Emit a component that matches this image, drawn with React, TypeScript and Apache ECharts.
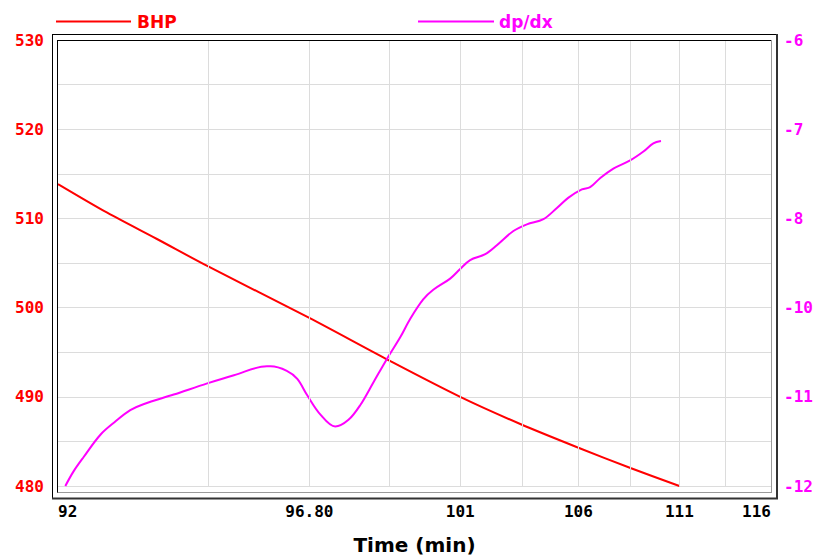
import React, { useEffect, useRef } from 'react';
import * as echarts from 'echarts';

// ---- x axis (non-linear time axis, labelled ticks) ----
const xTickValues = [92, 96.8, 101, 106, 111, 116];
const xTickLabels = ['92', '96.80', '101', '106', '111', '116'];
const xMinorGridTimes = [94.87, 99.03, 103.61, 108.59, 113.53];

// ---- BHP (left axis) ----
const bhpTime = [92.0, 92.94, 93.89, 94.85, 96.8, 99.03, 101.0, 103.54, 106.0, 108.61, 111.0];
const bhpValue = [513.85, 510.64, 507.69, 504.67, 498.84, 494.05, 489.99, 486.95, 484.29, 481.99, 480.0];

// ---- dp/dx (right axis) ----
const dpdxTime = [
  92.14, 92.3, 92.49, 92.81, 93.1, 93.38, 93.63, 94.21, 94.85, 95.36, 95.99, 96.06, 96.37, 96.57,
  96.76, 97.11, 97.52, 97.89, 98.22, 98.59, 98.96, 99.33, 99.61, 99.97, 100.25, 100.72, 101.0,
  101.42, 102.06, 102.55, 103.25, 103.82, 104.52, 105.09, 105.58, 106.17, 106.58, 107.07, 107.73,
  108.56, 109.22, 109.71, 110.09,
];
const dpdxValue = [
  -12.0, -11.8, -11.61, -11.31, -11.13, -10.98, -10.9, -10.77, -10.62, -10.51, -10.39, -10.39, -10.45,
  -10.56, -10.78, -11.04, -11.2, -11.11, -10.91, -10.6, -10.29, -10.0, -9.75, -9.49, -9.36, -9.21,
  -9.08, -8.96, -8.88, -8.76, -8.57, -8.48, -8.41, -8.26, -8.12, -8.01, -7.98, -7.86, -7.73, -7.62,
  -7.5, -7.39, -7.36,
];

// fraction of the axis length at which each labelled tick sits (non-linear scale)
const X_FRAC = [0, 0.3525, 0.5641, 0.7299, 0.8715, 1];

function toAxis(t: number): number {
  const n = xTickValues.length;
  let i = 0;
  while (i < n - 2 && t > xTickValues[i + 1]) i++;
  const a = xTickValues[i];
  const b = xTickValues[i + 1];
  const f = X_FRAC[i] + ((t - a) / (b - a)) * (X_FRAC[i + 1] - X_FRAC[i]);
  return f * 1000;
}

const MONO = 'DejaVu Sans Mono';
const SANS = 'DejaVu Sans';

export default function App() {
  const ref = useRef<HTMLDivElement>(null);
  useEffect(() => {
    if (!ref.current) return;
    const chart = echarts.init(ref.current, undefined, { renderer: 'svg' });
    const gridTimes = [...xTickValues.slice(1, -1), ...xMinorGridTimes];
    const gridColor = '#dcdcdc';
    chart.setOption({
      animation: false,
      backgroundColor: '#ffffff',
      grid: { left: 58, top: 40, width: 713, height: 452, containLabel: false },
      legend: [
        {
          data: ['BHP'],
          left: 51,
          top: 8,
          icon: 'rect',
          itemWidth: 75,
          itemHeight: 2,
          selectedMode: false,
          textStyle: { color: '#ff0000', fontFamily: SANS, fontWeight: 'bold', fontSize: 17, padding: [0, 0, 0, 1] },
        },
        {
          data: ['dp/dx'],
          left: 413,
          top: 8,
          icon: 'rect',
          itemWidth: 76,
          itemHeight: 2,
          selectedMode: false,
          textStyle: { color: '#ff00ff', fontFamily: SANS, fontWeight: 'bold', fontSize: 17, padding: [0, 0, 0, 0] },
        },
      ],
      xAxis: {
        type: 'value',
        min: 0,
        max: 1000,
        axisLine: { show: false },
        axisTick: { show: false },
        splitLine: { show: false },
        axisLabel: {
          customValues: xTickValues.map(toAxis),
          formatter: (v: number) => {
            let best = 0;
            let bd = Infinity;
            xTickValues.forEach((t, i) => {
              const d = Math.abs(toAxis(t) - v);
              if (d < bd) {
                bd = d;
                best = i;
              }
            });
            return xTickLabels[best];
          },
          alignMinLabel: 'left',
          alignMaxLabel: 'right',
          margin: 17,
          color: '#000000',
          fontFamily: MONO,
          fontWeight: 'bold',
          fontSize: 16,
        },
        name: 'Time (min)',
        nameLocation: 'middle',
        nameGap: 49,
        nameTextStyle: { color: '#000000', fontFamily: SANS, fontWeight: 'bold', fontSize: 20 },
      },
      yAxis: [
        {
          type: 'value',
          min: 480,
          max: 530,
          interval: 5,
          position: 'left',
          axisLine: { show: false },
          axisTick: { show: false },
          splitLine: { show: true, lineStyle: { color: gridColor, width: 1 } },
          axisLabel: {
            margin: 14,
            color: '#ff0000',
            fontFamily: MONO,
            fontWeight: 'bold',
            fontSize: 16,
            formatter: (v: number) => (Math.round(v) % 10 === 0 ? String(Math.round(v)) : ''),
          },
        },
        {
          type: 'value',
          min: -12,
          max: -6,
          interval: 1.2,
          position: 'right',
          axisLine: { show: false },
          axisTick: { show: false },
          splitLine: { show: false },
          axisLabel: {
            margin: 13,
            color: '#ff00ff',
            fontFamily: MONO,
            fontWeight: 'bold',
            fontSize: 16,
            formatter: (v: number) => String(Math.round(v)),
          },
        },
      ],
      series: [
        {
          type: 'line',
          name: 'vgrid',
          z: 1,
          silent: true,
          data: [[0, 480]],
          showSymbol: false,
          lineStyle: { width: 0, opacity: 0 },
          markLine: {
            silent: true,
            symbol: ['none', 'none'],
            label: { show: false },
            emphasis: { disabled: true },
            lineStyle: { color: gridColor, width: 1, type: 'solid' },
            data: gridTimes.map((t) => ({ xAxis: toAxis(t) })),
          },
        },
        {
          type: 'line',
          name: 'BHP',
          yAxisIndex: 0,
          z: 3,
          data: bhpTime.map((t, i) => [toAxis(t), bhpValue[i]]),
          showSymbol: false,
          smooth: 0.3,
          color: '#ff0000',
          lineStyle: { color: '#ff0000', width: 2 },
        },
        {
          type: 'line',
          name: 'dp/dx',
          yAxisIndex: 1,
          z: 3,
          data: dpdxTime.map((t, i) => [toAxis(t), dpdxValue[i]]),
          showSymbol: false,
          smooth: 0.35,
          color: '#ff00ff',
          lineStyle: { color: '#ff00ff', width: 2 },
        },
      ],
      graphic: [
        // outer frame
        { type: 'line', z: 10, shape: { x1: 52, y1: 34.5, x2: 777, y2: 34.5 }, style: { stroke: '#000', lineWidth: 1 } },
        { type: 'line', z: 10, shape: { x1: 52.5, y1: 34, x2: 52.5, y2: 499 }, style: { stroke: '#000', lineWidth: 1 } },
        { type: 'line', z: 10, shape: { x1: 52, y1: 498.5, x2: 778, y2: 498.5 }, style: { stroke: '#333', lineWidth: 2 } },
        { type: 'line', z: 10, shape: { x1: 777, y1: 34, x2: 777, y2: 499 }, style: { stroke: '#333', lineWidth: 2 } },
        // inner frame
        { type: 'line', z: 10, shape: { x1: 57.5, y1: 40.5, x2: 771.5, y2: 40.5 }, style: { stroke: '#000', lineWidth: 1 } },
        { type: 'line', z: 10, shape: { x1: 57.5, y1: 40, x2: 57.5, y2: 493 }, style: { stroke: '#000', lineWidth: 1 } },
        { type: 'line', z: 10, shape: { x1: 57.5, y1: 492.5, x2: 772, y2: 492.5 }, style: { stroke: '#9a9a9a', lineWidth: 1 } },
        { type: 'line', z: 10, shape: { x1: 771.5, y1: 40, x2: 771.5, y2: 493 }, style: { stroke: '#9a9a9a', lineWidth: 1 } },
      ],
    });
    return () => chart.dispose();
  }, []);
  return (
    <div
      ref={ref}
      style={{ position: 'fixed', left: 0, top: 0, width: 820, height: 560, background: '#fff' }}
    />
  );
}
